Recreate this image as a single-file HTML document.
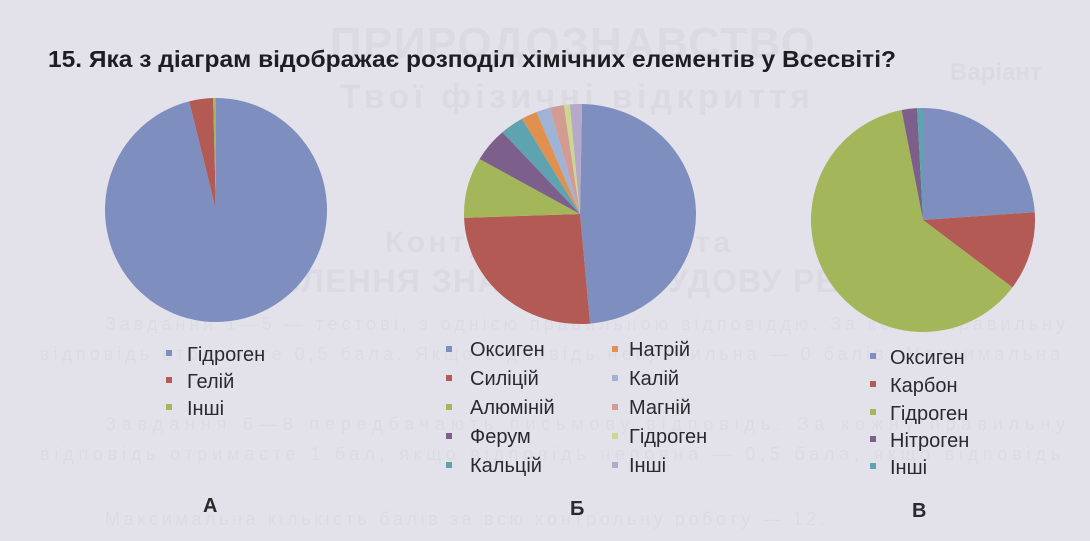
<!DOCTYPE html>
<html><head><meta charset="utf-8"><style>
html,body{margin:0;padding:0;background:#e3e2ea;}
svg{display:block;}
.t{font-family:"Liberation Sans","DejaVu Sans",sans-serif;}
</style></head><body>
<svg id="s" width="1090" height="541" viewBox="0 0 1090 541" xmlns="http://www.w3.org/2000/svg">
<rect width="1090" height="541" fill="#e3e2ea"/>
<g class="t" fill="#dbdae2" font-weight="bold">
<text x="330" y="58" font-size="44" textLength="485">ПРИРОДОЗНАВСТВО</text>
<text x="340" y="108" font-size="34" textLength="470">Твої фізичні відкриття</text>
<text x="950" y="80" font-size="24">Варіант</text>
<text x="385" y="252" font-size="30" textLength="345">Контрольна робота</text>
<text x="160" y="292" font-size="32" textLength="825">ПОГЛИБЛЕННЯ ЗНАНЬ ПРО БУДОВУ РЕЧОВИНИ</text>
</g>
<g class="t" fill="#dcdbe3" font-size="18">
<text x="105" y="330" textLength="960">Завдання 1—5 — тестові, з однією правильною відповіддю. За кожну правильну</text>
<text x="40" y="360" textLength="1020">відповідь отримаєте 0,5 бала. Якщо відповідь неправильна — 0 балів. Максимальна</text>
<text x="105" y="430" textLength="960">Завдання 6—8 передбачають письмову відповідь. За кожну правильну</text>
<text x="40" y="460" textLength="1020">відповідь отримаєте 1 бал, якщо відповідь неповна — 0,5 бала, якщо відповідь</text>
<text x="105" y="525" textLength="720">Максимальна кількість балів за всю контрольну роботу — 12.</text>
</g>
<text class="t" x="48" y="67" font-size="23" font-weight="bold" fill="#1e1d22" textLength="848" lengthAdjust="spacingAndGlyphs">15.  Яка з діаграм відображає розподіл хімічних елементів у Всесвіті?</text>
<g id="pies"></g>
<g class="t" font-size="20" fill="#2a2a2e">
<rect x="166" y="350" width="6" height="6" fill="#7e8fbf"/><text x="187" y="361">Гідроген</text>
<rect x="166" y="377" width="6" height="6" fill="#b45a55"/><text x="187" y="388">Гелій</text>
<rect x="166" y="404" width="6" height="6" fill="#a3b65a"/><text x="187" y="415">Інші</text>
<text x="203" y="512" font-weight="bold" font-size="20">А</text>

<rect x="446" y="346" width="6" height="6" fill="#7e8fbf"/><text x="470" y="356">Оксиген</text>
<rect x="446" y="375" width="6" height="6" fill="#b45a55"/><text x="470" y="385">Силіцій</text>
<rect x="446" y="404" width="6" height="6" fill="#a3b65a"/><text x="470" y="414">Алюміній</text>
<rect x="446" y="433" width="6" height="6" fill="#7d5f8c"/><text x="470" y="443">Ферум</text>
<rect x="446" y="462" width="6" height="6" fill="#5fa3b0"/><text x="470" y="472">Кальцій</text>
<rect x="612" y="346" width="6" height="6" fill="#e0914f"/><text x="629" y="356">Натрій</text>
<rect x="612" y="375" width="6" height="6" fill="#9fb3d6"/><text x="629" y="385">Калій</text>
<rect x="612" y="404" width="6" height="6" fill="#d39b91"/><text x="629" y="414">Магній</text>
<rect x="612" y="433" width="6" height="6" fill="#cbd98f"/><text x="629" y="443">Гідроген</text>
<rect x="612" y="462" width="6" height="6" fill="#b6a8c8"/><text x="629" y="472">Інші</text>
<text x="570" y="515" font-weight="bold" font-size="20">Б</text>

<rect x="870" y="353" width="6" height="6" fill="#7e8fbf"/><text x="890" y="364">Оксиген</text>
<rect x="870" y="381" width="6" height="6" fill="#b45a55"/><text x="890" y="392">Карбон</text>
<rect x="870" y="409" width="6" height="6" fill="#a3b65a"/><text x="890" y="420">Гідроген</text>
<rect x="870" y="436" width="6" height="6" fill="#7d5f8c"/><text x="890" y="447">Нітроген</text>
<rect x="870" y="463" width="6" height="6" fill="#5fa3b0"/><text x="890" y="474">Інші</text>
<text x="912" y="517" font-weight="bold" font-size="20">В</text>
</g>
</svg>
<script>
function pie(cx,cy,rx,ry,segs){
  var g=document.getElementById('pies'),ns='http://www.w3.org/2000/svg';
  segs.forEach(function(s){
    var a0=(s[0]-90)*Math.PI/180,a1=(s[1]-90)*Math.PI/180;
    var x0=cx+rx*Math.cos(a0),y0=cy+ry*Math.sin(a0),x1=cx+rx*Math.cos(a1),y1=cy+ry*Math.sin(a1);
    var large=(s[1]-s[0])>180?1:0;
    var p=document.createElementNS(ns,'path');
    p.setAttribute('d','M'+cx+','+cy+' L'+x0+','+y0+' A'+rx+','+ry+' 0 '+large+' 1 '+x1+','+y1+' Z');
    p.setAttribute('fill',s[2]);
    g.appendChild(p);
  });
}
pie(216,210,111,112,[[0,346,'#7e8fbf'],[346,358.5,'#b45a55'],[358.5,360,'#a3b65a']]);
pie(580,214,116,110,[[1,175,'#7e8fbf'],[175,268,'#b45a55'],[268,300,'#a3b65a'],[300,318,'#7d5f8c'],[318,330,'#5fa3b0'],[330,338,'#e0914f'],[338,345,'#9fb3d6'],[345,352,'#d39b91'],[352,355,'#cbd98f'],[355,361,'#b6a8c8']]);
pie(923,220,112,112,[[0,86,'#7e8fbf'],[86,127,'#b45a55'],[127,349,'#a3b65a'],[349,357,'#7d5f8c'],[357,360,'#5fa3b0']]);
</script>
</body></html>
